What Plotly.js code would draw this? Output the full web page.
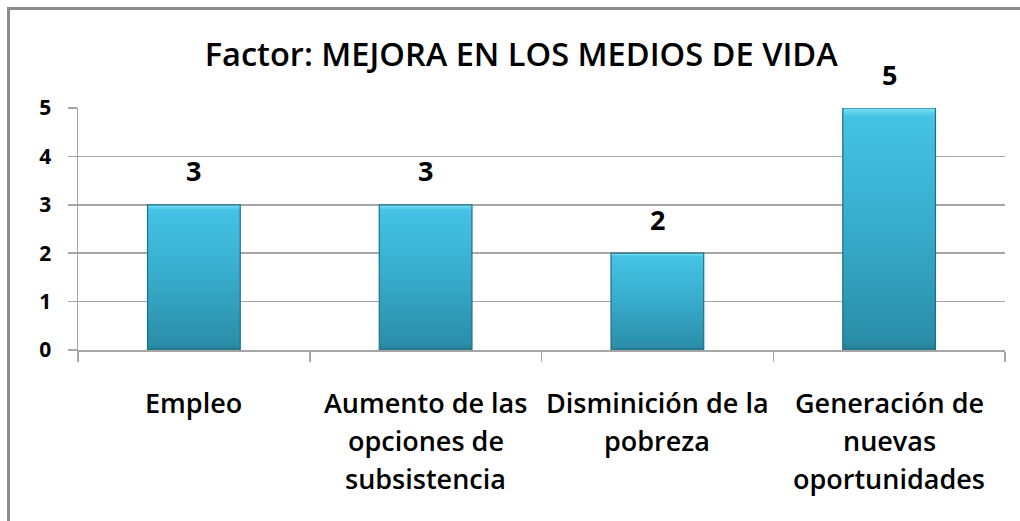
<!DOCTYPE html>
<html>
<head>
<meta charset="utf-8">
<script src="https://cdn.plot.ly/plotly-3.0.1.min.js"></script>
<style>
  html, body { margin: 0; padding: 0; background: #fff; }
  #wrap { position: relative; width: 1020px; height: 521px; overflow: hidden; }
  #chart { position: absolute; left: 0; top: 0; width: 1020px; height: 521px; }
  #frame { position: absolute; left: 7px; top: 7px; width: 1030px; height: 530px;
           border-top: 3px solid #8c8c8c; border-left: 3px solid #8c8c8c; pointer-events: none; }
</style>
</head>
<body>
<div id="wrap">
  <div id="chart"></div>
  <div id="frame"></div>
</div>
<script>
// ---- data ----
const categories = ["Empleo", "Aumento de las opciones de subsistencia", "Disminición de la pobreza", "Generación de nuevas oportunidades"];
const labelLines = [
  ["Empleo"],
  ["Aumento de las", "opciones de", "subsistencia"],
  ["Disminición de la", "pobreza"],
  ["Generación de", "nuevas", "oportunidades"]
];
const values = [3, 3, 2, 5];
const yTicks = [0, 1, 2, 3, 4, 5];
const chartTitle = "Factor: MEJORA EN LOS MEDIOS DE VIDA";

// ---- styles ----
const FONT = "'Open Sans', 'Noto Sans', sans-serif";
const gridCol = "#a6a6a6";

const trace = {
  type: "bar",
  x: categories,
  y: values,
  marker: { color: "#35aacb", line: { color: "#1f6f84", width: 1.2 } },
  hoverinfo: "none"
};

const annotations = [];
categories.forEach((c, i) => {
  annotations.push({
    x: c, y: values[i], xref: "x", yref: "y",
    text: "<b>" + values[i] + "</b>", showarrow: false,
    yanchor: "middle", yshift: 34,
    font: { family: FONT, size: 27, color: "#000" }
  });
  labelLines[i].forEach((ln, j) => {
    annotations.push({
      x: c, y: 0, xref: "x", yref: "paper",
      text: ln, showarrow: false,
      yanchor: "middle", yshift: -52 - 38 * j,
      font: { family: FONT, size: 27, color: "#000", weight: 600 }
    });
  });
});

const layout = {
  width: 1020, height: 521,
  margin: { l: 78, r: 15, t: 108, b: 171, pad: 0 },
  paper_bgcolor: "#fff", plot_bgcolor: "#fff",
  showlegend: false,
  bargap: 0.6,
  title: {
    text: chartTitle, xref: "container", x: 0.511, xanchor: "center",
    yref: "container", y: 1 - 55 / 521, yanchor: "middle",
    font: { family: FONT, size: 32.6, color: "#000", weight: 600 }
  },
  xaxis: {
    type: "category", showgrid: false, zeroline: false,
    showline: true, linecolor: gridCol, linewidth: 1.5,
    ticks: "outside", tickson: "boundaries", ticklen: 10, tickwidth: 1.5, tickcolor: gridCol,
    showticklabels: false
  },
  yaxis: {
    range: [0, 5], tickvals: yTicks, ticktext: yTicks.map(String),
    showgrid: true, gridcolor: gridCol, gridwidth: 1.5,
    zeroline: false, showline: true, linecolor: gridCol, linewidth: 1.5,
    ticks: "outside", ticklen: 9, tickwidth: 1.5, tickcolor: gridCol,
    ticklabelstandoff: 12,
    tickfont: { family: FONT, size: 21, color: "#000", weight: "bold" }
  },
  annotations: annotations
};

Plotly.newPlot("chart", [trace], layout, { staticPlot: true, displayModeBar: false }).then(gd => {
  const svg = gd.querySelector("svg.main-svg");
  const ns = "http://www.w3.org/2000/svg";
  let defs = svg.querySelector("defs");
  if (!defs) { defs = document.createElementNS(ns, "defs"); svg.insertBefore(defs, svg.firstChild); }
  const grad = document.createElementNS(ns, "linearGradient");
  grad.setAttribute("id", "barGrad");
  grad.setAttribute("x1", "0"); grad.setAttribute("y1", "0");
  grad.setAttribute("x2", "0"); grad.setAttribute("y2", "1");
  [["0", "#7fe0f6"], ["0.035", "#45c3e5"], ["0.5", "#37abcb"], ["0.96", "#2b8ea9"], ["1", "#257d94"]].forEach(([o, c]) => {
    const s = document.createElementNS(ns, "stop");
    s.setAttribute("offset", o); s.setAttribute("stop-color", c);
    grad.appendChild(s);
  });
  defs.appendChild(grad);
  gd.querySelectorAll(".bars .point path").forEach(p => { p.style.fill = "url(#barGrad)"; });
});
</script>
</body>
</html>
